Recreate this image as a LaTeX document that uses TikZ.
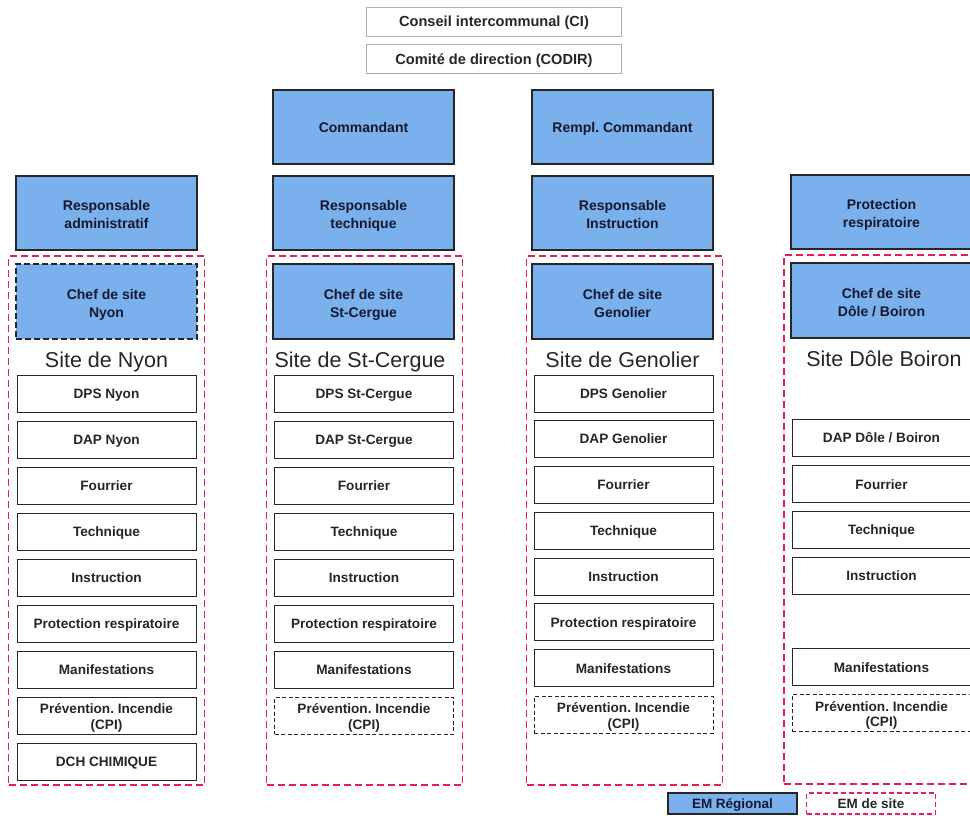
\documentclass[tikz,border=0pt]{standalone}
\usepackage{fontspec}
\setmainfont{Liberation Sans}
\definecolor{emblue}{RGB}{122,176,235}
\definecolor{emred}{RGB}{232,30,82}
\definecolor{navy}{RGB}{22,24,48}
\definecolor{topgray}{RGB}{175,175,185}
\newcommand{\twol}[2]{\raisebox{-3pt}[\height][\depth]{\begin{tabular}{@{}c@{}}#1\\#2\end{tabular}}}
\begin{document}
\frenchspacing
\begin{tikzpicture}[x=1pt,y=-1pt,
  oneline/.style={text height=1.08em, text depth=0pt},
  regbox/.style={draw=black!85, line width=1.2pt, fill=emblue, minimum width=181pt, minimum height=74pt, align=center, font=\bfseries\fontsize{14}{18}\selectfont, text=navy, inner sep=0pt},
  cellbox/.style={draw=black!85, line width=1pt, fill=white, minimum width=179pt, minimum height=37pt, align=center, font=\bfseries\fontsize{13.6}{15.5}\selectfont, text=black!85, inner sep=0pt},
  cellone/.style={cellbox, oneline},
  cpibox/.style={cellbox, dash pattern=on 4pt off 2.5pt},
  sitebox/.style={draw=emred, line width=1.3pt, dash pattern=on 7pt off 4pt, minimum width=196pt, minimum height=529pt, inner sep=0pt},
  topbox/.style={draw=topgray, line width=0.9pt, minimum width=255pt, minimum height=29pt, font=\bfseries\fontsize{14.6}{16}\selectfont, text=black!85, inner sep=0pt, text height=1.02em, text depth=0pt},
  sitetitle/.style={font=\fontsize{21.5}{24}\selectfont, text=black!85, inner sep=0pt, text height=1.0em, text depth=0pt},
  legbox/.style={minimum width=129pt, minimum height=21pt, font=\bfseries\fontsize{13.5}{15}\selectfont, text=black!85, inner sep=0pt, text height=0.95em, text depth=0pt}]
\clip (0,0) rectangle (970,816);
\fill[white] (0,0) rectangle (970,816);

% site containers
\node[sitebox] (s1) at (106.5,520.5) {};
\node[sitebox] (s2) at (364.5,520.5) {};
\node[sitebox] (s3) at (624.5,520.5) {};
\node[sitebox] (s4) at (882,519.5) {};

% top
\node[topbox] (ci) at (494,21.5) {Conseil intercommunal (CI)};
\node[topbox] (codir) at (494,59) {Comité de direction (CODIR)};

% commandants
\node[regbox, oneline] (cmd) at (363.5,127) {Commandant};
\node[regbox, oneline] (rcmd) at (622.5,127) {Rempl. Commandant};

% responsables
\node[regbox] (r1) at (106.5,213) {\twol{Responsable}{administratif}};
\node[regbox] (r2) at (363.5,213) {\twol{Responsable}{technique}};
\node[regbox] (r3) at (622.5,213) {\twol{Responsable}{Instruction}};
\node[regbox] (r4) at (881.5,212) {\twol{Protection}{respiratoire}};

% chefs de site
\node[regbox, minimum height=75pt, dash pattern=on 6pt off 3pt] (c1) at (106.5,301.5) {\twol{Chef de site}{Nyon}};
\node[regbox, minimum height=75pt] (c2) at (363.5,301.5) {\twol{Chef de site}{St-Cergue}};
\node[regbox, minimum height=75pt] (c3) at (622.5,301.5) {\twol{Chef de site}{Genolier}};
\node[regbox, minimum height=75pt] (c4) at (881.5,300.5) {\twol{Chef de site}{Dôle / Boiron}};

% site titles
\node[sitetitle] (t1) at (106.5,362.5) {Site de Nyon};
\node[sitetitle] (t2) at (360,362.5) {Site de St-Cergue};
\node[sitetitle] (t3) at (622.5,362.5) {Site de Genolier};
\node[sitetitle] (t4) at (884,361.5) {Site Dôle Boiron};

% column 1
\node[cellone] (a1) at (106.5,393.5) {DPS Nyon};
\node[cellone] (a2) at (106.5,439.5) {DAP Nyon};
\node[cellone] (a3) at (106.5,485.5) {Fourrier};
\node[cellone] (a4) at (106.5,531.5) {Technique};
\node[cellone] (a5) at (106.5,577.5) {Instruction};
\node[cellone] (a6) at (106.5,623.5) {Protection respiratoire};
\node[cellone] (a7) at (106.5,669.5) {Manifestations};
\node[cellbox] (a8) at (106.5,715.5) {\twol{Prévention. Incendie}{(CPI)}};
\node[cellone] (a9) at (106.5,761.5) {DCH CHIMIQUE};

% column 2
\node[cellone] (b1) at (364,393.5) {DPS St-Cergue};
\node[cellone] (b2) at (364,439.5) {DAP St-Cergue};
\node[cellone] (b3) at (364,485.5) {Fourrier};
\node[cellone] (b4) at (364,531.5) {Technique};
\node[cellone] (b5) at (364,577.5) {Instruction};
\node[cellone] (b6) at (364,623.5) {Protection respiratoire};
\node[cellone] (b7) at (364,669.5) {Manifestations};
\node[cpibox] (b8) at (364,715.5) {\twol{Prévention. Incendie}{(CPI)}};

% column 3
\node[cellone] (g1) at (623.5,393.5) {DPS Genolier};
\node[cellone] (g2) at (623.5,438.5) {DAP Genolier};
\node[cellone] (g3) at (623.5,484.5) {Fourrier};
\node[cellone] (g4) at (623.5,530.5) {Technique};
\node[cellone] (g5) at (623.5,576.5) {Instruction};
\node[cellone] (g6) at (623.5,622) {Protection respiratoire};
\node[cellone] (g7) at (623.5,668) {Manifestations};
\node[cpibox] (g8) at (623.5,714.5) {\twol{Prévention. Incendie}{(CPI)}};

% column 4
\node[cellone] (d2) at (881.5,437.5) {DAP Dôle / Boiron};
\node[cellone] (d3) at (881.5,484) {Fourrier};
\node[cellone] (d4) at (881.5,529.5) {Technique};
\node[cellone] (d5) at (881.5,575.5) {Instruction};
\node[cellone] (d7) at (881.5,667) {Manifestations};
\node[cpibox] (d8) at (881.5,713) {\twol{Prévention. Incendie}{(CPI)}};

% legend
\node[legbox, draw=black!85, line width=1.2pt, fill=emblue, text=navy] (lreg) at (732.5,803.5) {EM Régional};
\node[legbox, draw=emred, line width=1.2pt, dash pattern=on 5pt off 3pt] (lsite) at (871,803.5) {EM de site};
\end{tikzpicture}
\end{document}
